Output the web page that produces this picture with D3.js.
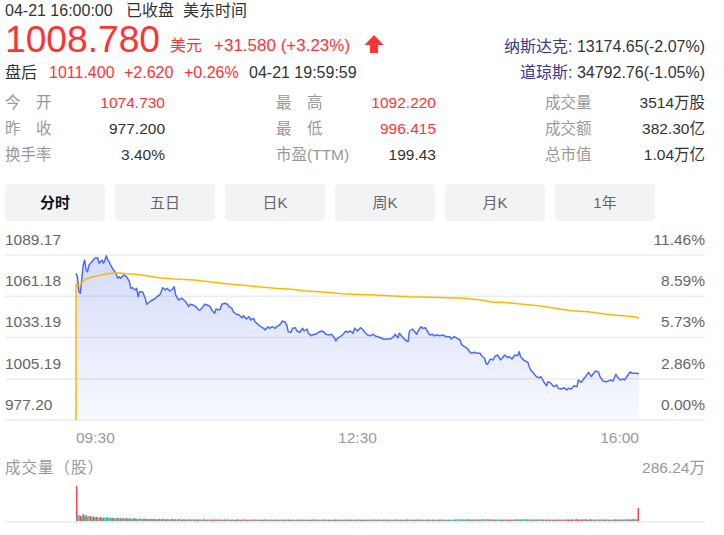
<!DOCTYPE html>
<html><head><meta charset="utf-8">
<script src="https://cdn.jsdelivr.net/npm/d3@7/dist/d3.min.js"></script>
<style>body{margin:0;background:#fff}svg{display:block}</style>
</head><body>
<script>
// ---------- data ----------
const quoteTime = "04-21 16:00:00", quoteStatus = "已收盘", quoteZone = "美东时间";
const lastPrice = "1008.780", currency = "美元", change = "+31.580 (+3.23%)";
const afterLabel = "盘后", afterItems = ["1011.400", "+2.620", "+0.26%"], afterTime = "04-21 19:59:59";
const indexNames = ["纳斯达克:", "道琼斯:"];
const indexValues = ["13174.65(-2.07%)", "34792.76(-1.05%)"];
const statLabels = [["今\u3000开","昨\u3000收","换手率"],["最\u3000高","最\u3000低","市盈(TTM)"],["成交量","成交额","总市值"]];
const statValues = [["1074.730","977.200","3.40%"],["1092.220","996.415","199.43"],["3514万股","382.30亿","1.04万亿"]];
const statRed = [[true,false,false],[true,true,false],[false,false,false]];
const tabs = ["分时","五日","日K","周K","月K","1年"];
const prevClose = 977.20;
const priceTicks = [977.20, 1005.19, 1033.19, 1061.18, 1089.17];
const pctTicks = ["0.00%", "2.86%", "5.73%", "8.59%", "11.46%"];
const timeTickMin = [0, 195, 390];
const timeTickLabels = ["09:30", "12:30", "16:00"];
const volLabel = "成交量（股）", volMaxLabel = "286.24万", volMax = 286.24;

const priceMin = [0,1,2,3,5,6,7,8,9,11,13,15,16,18,19,20,21,22,23,24,26,27,29,30,31,33,35,37,38,39,41,42,43,44,46,48,49,51,53,55,56,58,59,60,62,63,65,67,68,69,71,73,74,76,78,79,81,83,85,86,88,89,91,93,94,96,97,99,100,101,103,105,106,108,109,111,113,115,116,118,120,121,123,124,126,128,130,131,133,134,136,138,139,141,143,145,146,147,149,150,152,153,155,157,158,160,161,163,165,166,168,170,172,173,175,177,179,180,181,183,185,187,188,190,192,193,195,197,199,200,202,204,206,207,209,211,213,214,216,218,220,221,223,224,226,228,230,231,233,235,236,237,239,240,242,243,245,247,248,250,252,254,255,257,259,260,262,264,266,267,269,271,273,274,276,278,280,281,283,284,285,287,289,290,292,294,296,297,299,300,302,304,306,307,308,310,313,314,315,317,319,321,322,324,326,327,329,331,333,334,336,338,340,341,343,345,347,348,350,352,353,355,357,358,360,362,363,365,367,369,370,372,374,375,377,379,380,382,384,385,387,390];
const priceVal = [1076.75,1074.45,1064.27,1063.18,1082.38,1085.78,1078.99,1077.84,1082.38,1084.62,1086.93,1087.34,1083.54,1085.78,1083.54,1085.78,1088.69,1085.78,1084.62,1082.38,1078.99,1077.84,1073.36,1074.45,1073.36,1075.60,1074.45,1071.05,1066.57,1066.98,1065.42,1066.57,1060.87,1064.27,1064.27,1059.79,1055.71,1057.48,1058.63,1059.79,1060.87,1062.03,1064.27,1066.98,1065.42,1066.57,1064.74,1066.10,1067.66,1062.03,1058.63,1059.79,1059.31,1057.48,1054.08,1055.71,1055.24,1054.08,1051.85,1051.85,1054.08,1055.71,1055.24,1054.08,1051.85,1049.61,1052.52,1051.85,1052.52,1055.71,1056.39,1055.71,1054.08,1053.00,1050.69,1048.93,1048.45,1046.62,1047.98,1045.74,1047.30,1045.06,1046.21,1043.91,1042.14,1040.51,1039.43,1038.27,1040.51,1039.43,1040.51,1039.43,1040.51,1041.67,1044.38,1043.50,1041.67,1037.12,1036.71,1039.43,1039.84,1037.60,1036.71,1039.43,1037.60,1038.95,1036.03,1034.41,1035.36,1035.36,1036.71,1037.60,1036.71,1035.36,1034.88,1035.36,1033.05,1030.81,1032.64,1033.73,1035.36,1037.60,1036.71,1037.60,1036.03,1039.43,1037.60,1039.84,1038.27,1036.71,1034.88,1034.41,1035.36,1034.41,1033.73,1033.05,1032.17,1031.96,1032.17,1032.17,1033.73,1035.36,1033.05,1036.03,1033.73,1031.49,1030.33,1037.60,1038.95,1036.71,1035.36,1037.60,1040.51,1039.43,1039.84,1038.27,1034.88,1035.36,1034.41,1034.88,1034.41,1034.88,1034.41,1033.73,1033.73,1032.17,1033.73,1032.64,1031.49,1028.57,1026.94,1025.86,1023.14,1022.46,1023.14,1022.46,1022.46,1020.83,1019.07,1015.68,1015.00,1018.59,1017.92,1020.16,1021.31,1017.92,1020.16,1021.31,1019.48,1020.16,1018.59,1021.31,1020.83,1023.55,1020.16,1017.92,1016.35,1013.37,1011.13,1008.89,1006.58,1005.90,1006.58,1003.19,1000.48,1003.19,1002.10,999.80,1000.95,998.71,998.24,999.12,997.56,998.71,998.24,1000.48,999.80,1004.34,1002.78,1005.50,1006.58,1009.57,1006.58,1008.21,1010.45,1009.57,1006.58,1003.67,1003.19,1003.67,1004.34,1003.67,1008.21,1006.58,1004.34,1005.02,1004.34,1007.26,1009.98,1008.89,1008.89,1008.78];

const avgMin = [0,0,3,5,8,15,22,28,35,41,49,57,68,82,95,101,108,119,128,138,149,158,168,177,184,192,207,230,245,269,281,289,295,308,320,332,343,355,366,378,387,390];
const avgVal = [977.20,1069.29,1068.81,1071.53,1073.36,1075.12,1076.48,1077.16,1076.48,1076.07,1075.12,1073.77,1072.88,1072.20,1070.64,1069.96,1069.29,1068.34,1067.45,1066.57,1065.89,1064.94,1064.27,1063.59,1062.91,1062.50,1062.03,1060.87,1060.46,1059.79,1058.63,1057.07,1057.07,1055.92,1054.76,1053.00,1051.37,1050.69,1049.13,1047.98,1047.30,1046.21];

// volume per minute in 万股; sign = minute direction (+ up, - down)
const volume = [286,
-48,-52,41,-38,55,-44,49,-36,-42,40,-33,38,-30,35,-31,-28,34,-29,26,-30,
-27,30,-25,-28,24,26,-22,-25,27,-21,23,-24,20,-22,25,-19,21,-23,-18,20,
22,-19,-17,21,-18,16,-20,19,-17,15,-18,17,-16,19,-15,14,-17,16,-14,18,
-15,13,16,-14,12,-15,17,-13,14,-12,15,-16,11,13,-14,12,-11,14,-13,12,
-12,14,-11,13,12,-13,11,-12,15,-10,12,-11,13,-12,10,14,-11,12,-13,11,
12,-10,13,-11,12,-12,10,-13,11,-10,12,14,-11,10,-12,13,-11,12,-10,11,
-11,12,-10,13,-12,11,-10,12,-11,10,13,-12,11,-10,12,-11,10,-13,11,-12,
10,-11,12,-10,11,-12,13,-11,10,-12,11,-10,12,-11,13,-10,11,-12,10,-11,
12,-10,11,-13,12,-11,10,-12,11,-10,13,-11,12,-10,11,-12,10,-11,12,-13,
11,-10,12,-11,10,-12,11,-13,12,-10,11,-12,10,-11,13,-12,11,-10,12,-11,
10,-12,11,-10,13,-11,12,-10,11,-12,10,-11,12,-13,11,-10,12,-11,10,-12,
11,-13,12,-10,11,-12,10,-11,14,-12,11,-10,12,-11,10,-12,13,-11,10,-12,
11,-10,12,-13,11,-10,12,-11,10,-12,11,-13,12,-10,11,-12,10,-11,12,-10,
-11,-12,13,-14,-12,-15,-13,14,-12,-13,15,-12,-14,11,13,-12,14,-11,12,-13,
-14,-15,12,-13,-16,14,-12,13,-11,12,-14,11,-12,13,-10,12,-11,13,-12,11,
12,-13,11,-12,14,-15,-13,-14,12,-16,-13,-15,14,-12,-13,11,-14,12,-11,13,
-12,-14,12,-13,-11,12,-12,13,-11,12,-10,11,-12,13,-11,12,-10,11,-12,12,
13,-11,12,14,-10,13,15,12,-11,14,12,-13,15,12,-11,14,12,-13,11,-12,
-13,-12,11,-14,-12,13,11,-12,12,-11,10,-12,14,-13,11,-12,12,-11,13,-12,
14,-12,15,-13,12,16,-13,14,-12,106];

// ---------- drawing ----------
const W = 724, H = 535;
const FONT = "'Liberation Sans', Arial, 'Noto Sans CJK SC', sans-serif";
const RED = "#ff3333", BLACK = "#333", GRAY = "#999";
const svg = d3.select("body").append("svg").attr("width", W).attr("height", H)
  .style("font-family", FONT);

function txt(x, y, s, size, color, anchor, weight) {
  return svg.append("text").attr("x", x).attr("y", y).text(s)
    .attr("font-size", size).attr("fill", color)
    .attr("text-anchor", anchor || "start").attr("font-weight", weight || "normal");
}

// header
txt(5, 16, quoteTime, 16, BLACK);
txt(126, 16, quoteStatus, 16, BLACK);
txt(183, 16, quoteZone, 16, BLACK);
txt(5, 52, lastPrice, 36, RED).attr("textLength", 155).attr("lengthAdjust", "spacingAndGlyphs");
txt(170, 51, currency, 16, RED);
txt(214, 51, change, 17, RED);
svg.append("path").attr("d", "M374,35 L383.5,45 L378,45 L378,53 L370,53 L370,45 L364.5,45 Z").attr("fill", RED);
txt(5, 78, afterLabel, 16, BLACK);
[49, 124, 184].forEach((x, i) => txt(x, 78, afterItems[i], 16, RED));
txt(249, 78, afterTime, 16, BLACK);
indexNames.forEach((n, i) => {
  const g = svg.append("text").attr("x", 705).attr("y", 52 + i * 26).attr("text-anchor", "end").attr("font-size", 16);
  g.append("tspan").attr("fill", "#3a3a96").text(n);
  g.append("tspan").attr("fill", BLACK).text(" " + indexValues[i]);
});

// stats table
const colLabelX = [5, 276, 545], colValX = [165, 436, 705];
statLabels.forEach((col, c) => col.forEach((lab, r) => {
  const yy = 108 + r * 26;
  txt(colLabelX[c], yy, lab, 15.5, GRAY);
  txt(colValX[c], yy, statValues[c][r], 15.5, statRed[c][r] ? RED : BLACK, "end");
}));

// tabs
tabs.forEach((t, i) => {
  const x0 = 5 + i * 110;
  svg.append("rect").attr("x", x0).attr("y", 184).attr("width", 100).attr("height", 37).attr("rx", 4).attr("fill", "#f2f3f5");
  txt(x0 + 50, 208, t, 15, i === 0 ? "#111" : "#666", "middle", i === 0 ? "bold" : "normal");
});

// price chart
const x = d3.scaleLinear().domain([0, 390]).range([76, 639]);
const y = d3.scaleLinear().domain([priceTicks[0], priceTicks[4]]).range([420, 255]);

svg.append("g").selectAll("line").data(priceTicks).join("line")
  .attr("x1", 5).attr("x2", 705).attr("y1", d => y(d)).attr("y2", d => y(d))
  .attr("stroke", "#ececec").attr("stroke-width", 1.5);
svg.append("g").selectAll("text").data(priceTicks).join("text")
  .attr("x", 5).attr("y", d => y(d) - 10).text(d => d.toFixed(2))
  .attr("font-size", 15.5).attr("fill", "#666");
svg.append("g").selectAll("text").data(priceTicks).join("text")
  .attr("x", 705).attr("y", d => y(d) - 10).attr("text-anchor", "end").text((d, i) => pctTicks[i])
  .attr("font-size", 15.5).attr("fill", "#666");

const defs = svg.append("defs");
const grad = defs.append("linearGradient").attr("id", "ag").attr("x1", 0).attr("x2", 0).attr("y1", 0).attr("y2", 1);
grad.append("stop").attr("offset", "0%").attr("stop-color", "#5070f0").attr("stop-opacity", 0.25);
grad.append("stop").attr("offset", "100%").attr("stop-color", "#5070f0").attr("stop-opacity", 0.04);

const pts = priceMin.map((m, i) => [m, priceVal[i]]);
svg.append("path").datum(pts)
  .attr("d", d3.area().x(d => x(d[0])).y0(y(prevClose)).y1(d => y(d[1])))
  .attr("fill", "url(#ag)");
svg.append("path").datum(pts)
  .attr("d", d3.line().x(d => x(d[0])).y(d => y(d[1])))
  .attr("fill", "none").attr("stroke", "#4a6cf7").attr("stroke-width", 1.5).attr("stroke-linejoin", "round");
const apts = avgMin.map((m, i) => [m, avgVal[i]]);
svg.append("path").datum(apts)
  .attr("d", d3.line().x(d => x(d[0])).y(d => y(d[1])))
  .attr("fill", "none").attr("stroke", "#fcb800").attr("stroke-width", 1.5);

// time labels
const anchors = ["start", "middle", "end"];
svg.append("g").selectAll("text").data(timeTickMin).join("text")
  .attr("x", d => x(d)).attr("y", 443).attr("text-anchor", (d, i) => anchors[i])
  .text((d, i) => timeTickLabels[i]).attr("font-size", 15.5).attr("fill", GRAY);

// volume
txt(5, 473, volLabel, 15.5, GRAY).attr("letter-spacing", 1);
txt(705, 473, volMaxLabel, 15.5, GRAY, "end");
const vy = d3.scaleLinear().domain([0, volMax]).range([521, 486]);
const bw = x(1) - x(0);
svg.append("g").selectAll("rect").data(volume).join("rect")
  .attr("x", (d, i) => x(i) - bw / 2 + (i === 0 ? bw / 2 : 0) - (i === volume.length - 1 ? bw / 2 : 0))
  .attr("width", bw)
  .attr("y", d => vy(Math.abs(d))).attr("height", d => 521 - vy(Math.abs(d)))
  .attr("fill", d => d >= 0 ? "#f4454f" : "#33c9a6");
svg.append("line").attr("x1", 5).attr("x2", 705).attr("y1", 522).attr("y2", 522).attr("stroke", "#ececec").attr("stroke-width", 1.5);
</script>
</body></html>
